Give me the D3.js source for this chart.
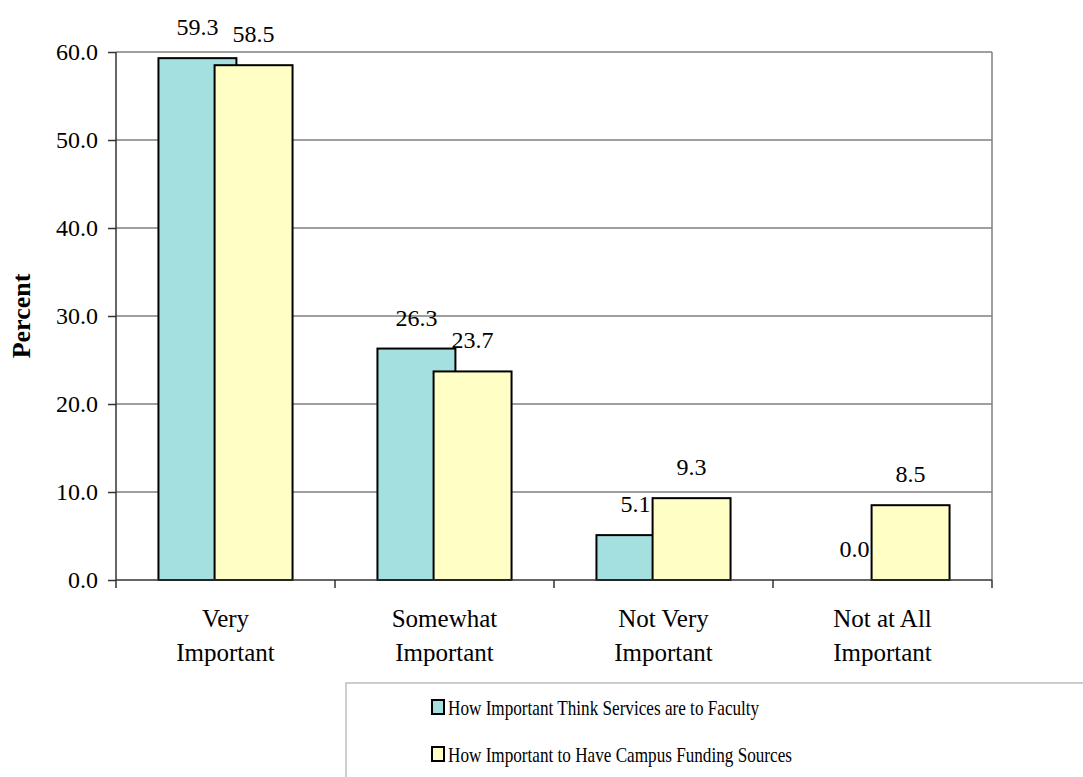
<!DOCTYPE html>
<html>
<head>
<meta charset="utf-8">
<script src="https://cdn.jsdelivr.net/npm/d3@7"></script>
<style>
	body { margin: 0; background: #fff; }
	svg text { font-family: "Liberation Serif", "Times New Roman", serif; fill: #000; }
</style>
</head>
<body>
<div id="chart-container"></div>
<script>
{ // start block scope

	const categories = [["Very", "Important"], ["Somewhat", "Important"], ["Not Very", "Important"], ["Not at All", "Important"]];
	const seriesNames = ["How Important Think Services are to Faculty", "How Important to Have Campus Funding Sources"];
	const facultyValues = [59.3, 26.3, 5.1, 0.0];
	const fundingValues = [58.5, 23.7, 9.3, 8.5];
	const yTicks = [0, 10, 20, 30, 40, 50, 60];
	const colors = ["#a5e0e0", "#ffffc5"];

	const serif = '"Liberation Serif", "Times New Roman", serif';

	var width = 1083,
		height = 777;

	var svg = d3
		.select("#chart-container")
		.append("svg")
		.attr("width", width)
		.attr("height", height);

	const series = [facultyValues, fundingValues];

	const x = d3
		.scaleBand()
		.domain(d3.range(categories.length))
		.range([116, 992])
		.padding(0);

	const y = d3.scaleLinear().domain([0, 60]).range([580, 52]);

	// bar geometry (Excel-style overlap)
	const barW = x.bandwidth() * 0.356;
	const step = barW * 0.72;
	const barX = (i, s) => x(i) + x.bandwidth() / 2 - (barW + step) / 2 + s * step;

	// gridlines
	svg
		.append("g")
		.selectAll("line")
		.data(yTicks.filter((d) => d > 0))
		.join("line")
		.attr("x1", 116)
		.attr("x2", 992)
		.attr("y1", (d) => y(d))
		.attr("y2", (d) => y(d))
		.style("stroke", "#7f7f7f")
		.style("stroke-width", 1.5);

	// right border of plot area
	svg
		.append("line")
		.attr("x1", 992)
		.attr("x2", 992)
		.attr("y1", y(60))
		.attr("y2", y(0))
		.style("stroke", "#7f7f7f")
		.style("stroke-width", 1.5);

	// bars
	series.forEach((vals, s) => {
		svg
			.append("g")
			.selectAll("rect")
			.data(vals)
			.join("rect")
			.attr("x", (d, i) => barX(i, s))
			.attr("y", (d) => y(d))
			.attr("width", barW)
			.attr("height", (d) => y(0) - y(d))
			.attr("fill", colors[s])
			.style("stroke", "#000")
			.style("stroke-width", 2);
	});

	// value labels
	series.forEach((vals, s) => {
		svg
			.append("g")
			.selectAll("text")
			.data(vals)
			.join("text")
			.attr("x", (d, i) => barX(i, s) + barW / 2)
			.attr("y", (d) => y(d) - 23)
			.attr("text-anchor", "middle")
			.style("font-family", serif)
			.style("font-size", "24px")
			.text((d) => d3.format(".1f")(d));
	});

	// y axis
	const yAxis = d3
		.axisLeft(y)
		.tickValues(yTicks)
		.tickSize(8)
		.tickPadding(10)
		.tickFormat(d3.format(".1f"));
	const gy = svg
		.append("g")
		.attr("transform", "translate(116,0)")
		.call(yAxis)
		.attr("font-family", null);
	gy.select(".domain").attr("d", "M0," + y(60) + "V" + y(0)).style("stroke", "#333").style("stroke-width", 1.5);
	gy.selectAll(".tick line").style("stroke", "#333").style("stroke-width", 1.5);
	gy.selectAll(".tick text").style("font-size", "24px").style("font-family", serif);

	// x axis
	const xTickPos = d3.range(categories.length + 1).map((i) => 116 + i * x.bandwidth());
	svg
		.append("line")
		.attr("x1", 116)
		.attr("x2", 992)
		.attr("y1", y(0))
		.attr("y2", y(0))
		.style("stroke", "#333")
		.style("stroke-width", 1.5);
	svg
		.append("g")
		.selectAll("line")
		.data(xTickPos)
		.join("line")
		.attr("x1", (d) => d)
		.attr("x2", (d) => d)
		.attr("y1", y(0))
		.attr("y2", y(0) + 8)
		.style("stroke", "#333")
		.style("stroke-width", 1.5);

	// category labels
	const catLabels = svg
		.append("g")
		.selectAll("text")
		.data(categories)
		.join("text")
		.attr("text-anchor", "middle")
		.style("font-family", serif)
		.style("font-size", "25px");
	catLabels
		.selectAll("tspan")
		.data((d, i) => d.map((t) => ({ t, i })))
		.join("tspan")
		.attr("x", (d) => x(d.i) + x.bandwidth() / 2)
		.attr("y", (d, j) => 627 + j * 34)
		.text((d) => d.t);

	// y axis title
	svg
		.append("text")
		.attr("transform", "translate(30,316) rotate(-90)")
		.attr("text-anchor", "middle")
		.style("font-family", serif)
		.style("font-size", "26px")
		.style("font-weight", "bold")
		.text("Percent");

	// legend
	const legendGroup = svg.append("g").attr("id", "legend");
	legendGroup
		.append("rect")
		.attr("x", 346)
		.attr("y", 683)
		.attr("width", 800)
		.attr("height", 200)
		.attr("fill", "#fff")
		.style("stroke", "#bdbdbd")
		.style("stroke-width", 1.5);

	const items = legendGroup
		.selectAll("g.item")
		.data(seriesNames)
		.join("g")
		.attr("class", "item")
		.attr("transform", (d, i) => `translate(432,${700 + i * 47})`);
	items
		.append("rect")
		.attr("width", 12)
		.attr("height", 14)
		.attr("fill", (d, i) => colors[i])
		.style("stroke", "#000")
		.style("stroke-width", 2);
	items
		.append("text")
		.attr("transform", "translate(16,15) scale(0.78,1)")
		.style("font-family", serif)
		.style("font-size", "22px")
		.text((d) => d);

} // end block scope
</script>
</body>
</html>
